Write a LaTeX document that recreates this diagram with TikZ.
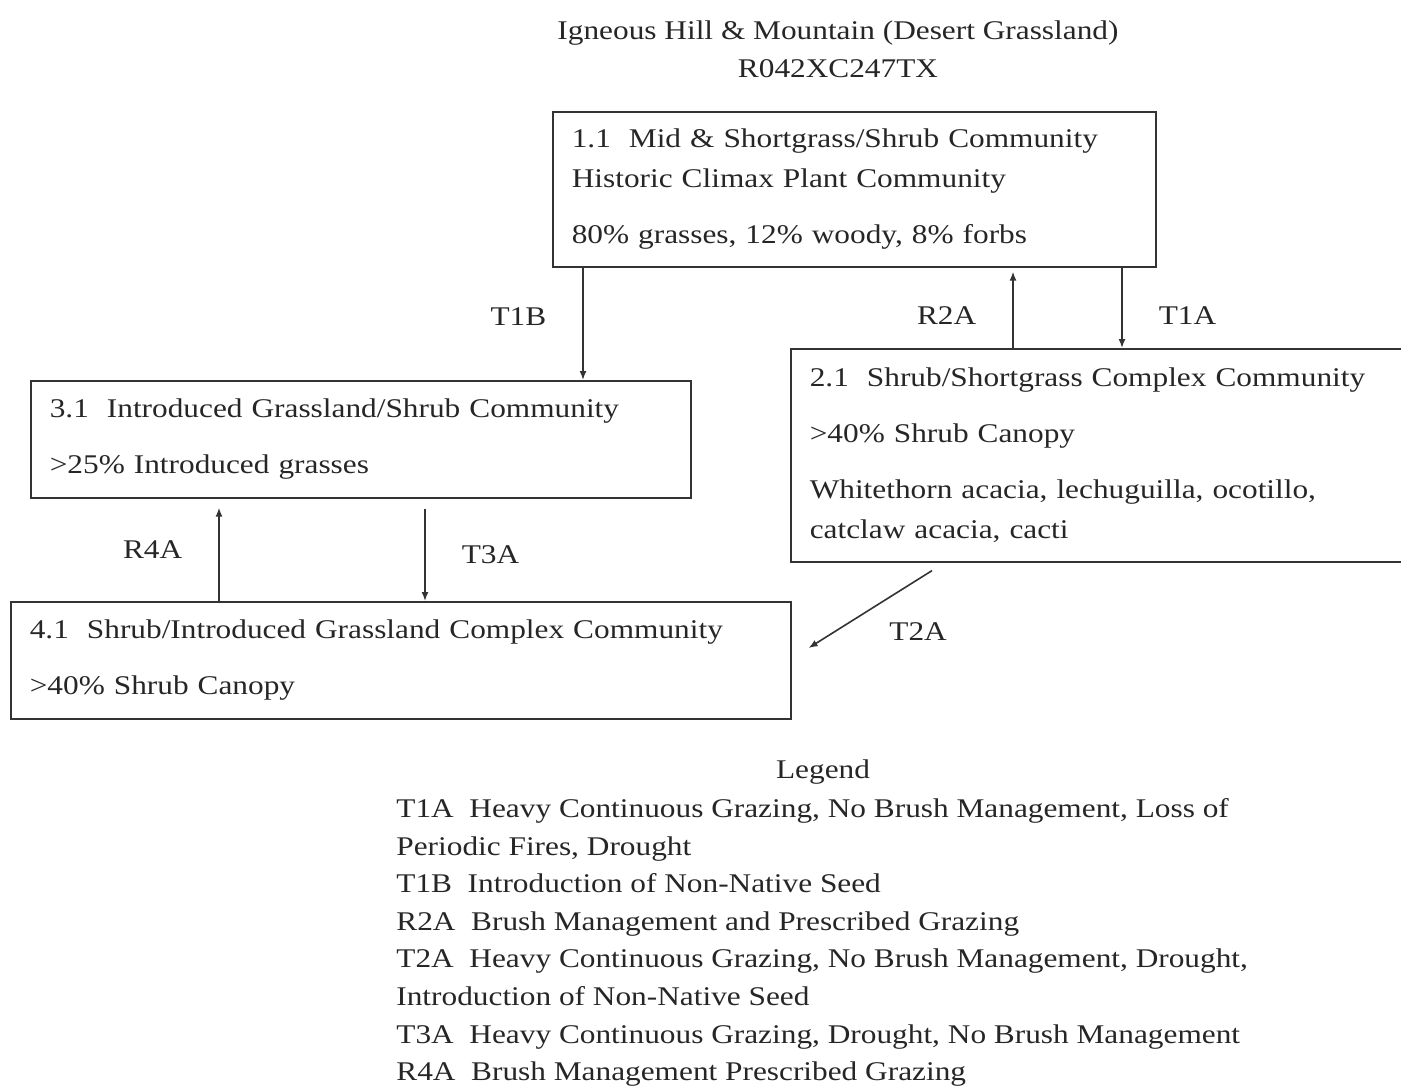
\documentclass[tikz,border=0pt]{standalone}
\usepackage{fontspec}
\setmainfont[FakeStretch=1.16]{Liberation Serif}
\usetikzlibrary{arrows.meta,calc,positioning}

\begin{document}
\begin{tikzpicture}[x=0.5pt,y=-0.5pt,
  every node/.style={text=black!85,font=\fontsize{13.5}{20}\selectfont},
  box/.style={draw=black!80,line width=0.8pt,anchor=north west,align=left,inner xsep=9.5pt,inner ysep=0pt},
  lab/.style={inner sep=0pt}]
\useasboundingbox (0,0) rectangle (1401,1088);
% title
\node (T) at (838,49) [align=center,font=\fontsize{13.5}{19}\selectfont] {Igneous Hill \& Mountain (Desert Grassland)\\R042XC247TX};
% states
\node[box,text width=282.5pt,minimum height=77.5pt] (S1) at (552,111) {1.1\ \ Mid \& Shortgrass/Shrub Community\\Historic Climax Plant Community\\[8pt]80\% grasses, 12\% woody, 8\% forbs};
\node[box,text width=293.5pt,minimum height=106.5pt] (S2) at (790,348) {2.1\ \ Shrub/Shortgrass Complex Community\\[8pt]>40\% Shrub Canopy\\[8pt]Whitethorn acacia, lechuguilla, ocotillo,\\catclaw acacia, cacti};
\node[box,text width=311pt,minimum height=58.5pt] (S3) at (30,380) {3.1\ \ Introduced Grassland/Shrub Community\\[8pt]>25\% Introduced grasses};
\node[box,text width=371pt,minimum height=58.5pt] (S4) at (10,601) {4.1\ \ Shrub/Introduced Grassland Complex Community\\[8pt]>40\% Shrub Canopy};
% arrow ends
\coordinate (t1b) at ($(S1.south west)+(31,0)$);
\coordinate (r2a) at ($(S2.north west)+(223,0)$);
\coordinate (t1a) at ($(S1.south west)+(570,0)$);
\coordinate (r4a) at ($(S4.north west)+(209,0)$);
\coordinate (t3a) at ($(S4.north west)+(415,0)$);
\coordinate (t2a) at ($(S2.south west)+(142,8)$);
\coordinate (t2b) at ($(S4.north east)+(17,47)$);
\path[color=black!80,line width=0.8pt,-{Latex[length=4.5pt,width=3.5pt]}]
(t1b) edge node[lab,pos=0.44,left=18pt]{T1B} (t1b |- S3.north)
(r2a) edge[shorten >=2pt] node[lab,pos=0.4,left=18pt]{R2A} (r2a |- S1.south)
(t1a) edge node[lab,pos=0.6,right=18pt]{T1A} (t1a |- S2.north)
(r4a) edge[shorten >=4.5pt] node[lab,pos=0.5,left=18pt]{R4A} (r4a |- S3.south)
(t3a |- S3.south) edge[shorten <=5pt] node[lab,pos=0.55,right=18pt]{T3A} (t3a)
(t2a) edge node[lab,pos=0.66,anchor=north west,xshift=19pt]{T2A} (t2b);
% legend
\node (L) at (823,772) {Legend};
\node[lab,anchor=north west,align=left,font=\fontsize{13.5}{18.8}\selectfont] (LL) at (396,798) {T1A\ \ Heavy Continuous Grazing, No Brush Management, Loss of\\Periodic Fires, Drought\\T1B\ \ Introduction of Non-Native Seed\\R2A\ \ Brush Management and Prescribed Grazing\\T2A\ \ Heavy Continuous Grazing, No Brush Management, Drought,\\Introduction of Non-Native Seed\\T3A\ \ Heavy Continuous Grazing, Drought, No Brush Management\\R4A\ \ Brush Management Prescribed Grazing};
\end{tikzpicture}
\end{document}
